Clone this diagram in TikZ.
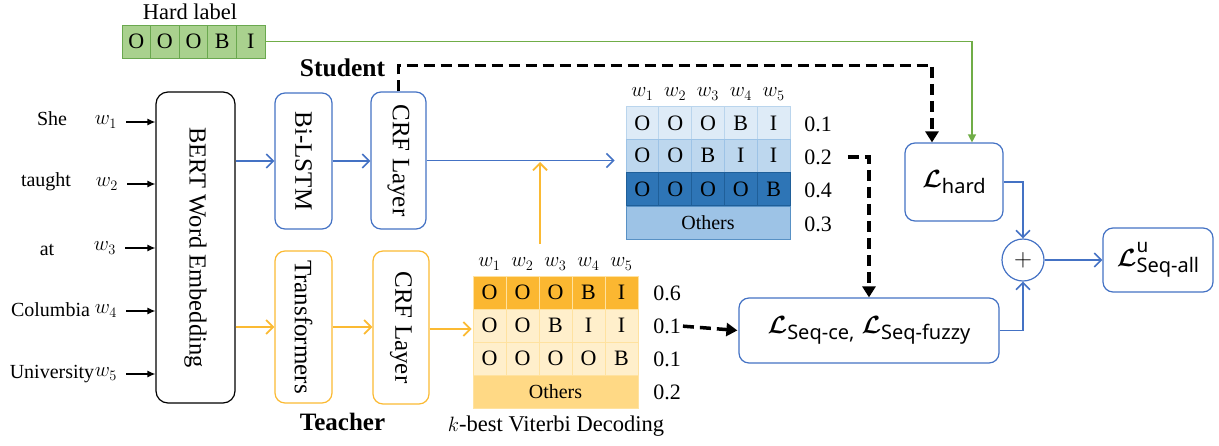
\documentclass[tikz,border=0pt]{standalone}
\usepackage{amsmath}
\usepackage{graphicx}
\usepackage{fontspec}
\setmainfont{Liberation Serif}
\newfontfamily\lossfont{Noto Sans}
\usetikzlibrary{arrows.meta,calc}
\definecolor{hgreen}{HTML}{A9D18E}
\definecolor{hgreenline}{HTML}{70AD47}
\definecolor{hgreendk}{HTML}{6AA84F}
\definecolor{bblue}{HTML}{4472C4}
\definecolor{oorange}{HTML}{FBBA33}
\definecolor{sA}{HTML}{DEEBF7}
\definecolor{sB}{HTML}{BDD7EE}
\definecolor{sC}{HTML}{2E75B6}
\definecolor{sD}{HTML}{9DC3E6}
\definecolor{sE}{HTML}{1F5F99}
\definecolor{tA}{HTML}{FBB731}
\definecolor{tB}{HTML}{FFEFCB}
\definecolor{tD}{HTML}{FFD985}
\definecolor{tL}{HTML}{FFE2A0}
\newcommand{\Lsym}{{\fontsize{31}{31}\selectfont$\boldsymbol{\mathcal{L}}$}}
\newcommand{\Lsubtxt}[1]{\raisebox{-6pt}{\fontsize{20}{20}\selectfont\lossfont #1}}
\begin{document}
\begin{tikzpicture}[x=1pt,y=-1pt,
  fs/.style={font=\fontsize{#1}{#1}\selectfont},
  roundbox/.style={draw,rounded corners=10pt,line width=1.2pt,inner sep=0pt,fill=white},
  hcell/.style={draw=hgreendk,fill=hgreen,line width=0.8pt,minimum width=28.6pt,minimum height=33pt,inner sep=0pt,fs=22},
  tcell/.style={minimum width=32.8pt,minimum height=33pt,inner sep=0pt,fs=22,line width=0.8pt},
  others/.style={minimum width=164pt,minimum height=33pt,inner sep=0pt,fs=20,line width=0.8pt},
  karr/.style={line width=1.2pt,-{Latex[length=8pt,width=7pt]}},
  barr/.style={draw=bblue,line width=1.6pt,-{Straight Barb[length=7pt,width=14pt]}},
  oarr/.style={draw=oorange,line width=1.8pt,-{Straight Barb[length=7pt,width=14pt]}},
  garr/.style={draw=hgreenline,line width=1.4pt,-{Triangle[length=8pt,width=8pt]}},
  dsh/.style={line width=3.5pt,dash pattern=on 11pt off 6pt,-{Triangle[length=11pt,width=13pt]}},
  lbl/.style={inner sep=0pt}
]
\useasboundingbox (0,0) rectangle (1219,445);

% Hard label
\node[fs=22.5] (hltxt) at (190,12) {Hard label};
\foreach \c/\t in {1/O,2/O,3/O,4/B,5/I}
  \node[hcell] (h\c) at ({107.7+28.6*\c},41.5) {\t};

% Student / Teacher labels
\node[font=\bfseries\fontsize{25.5}{25.5}\selectfont] (stud) at (342.5,68) {Student};
\node[font=\bfseries\fontsize{25}{25}\selectfont] (teach) at (342.5,422) {Teacher};

% words
\node[fs=20] (x1) at (52,119) {She};
\node[fs=20] (x2) at (46,182) {taught};
\node[fs=20] (x3) at (47,250) {at};
\node[fs=20] (x4) at (50.5,310) {Columbia};
\node[fs=20] (x5) at (52,374) {University};
\node[fs=21,lbl] (w1) at (106,122) {$w_1$};
\node[fs=21,lbl] (w2) at (107,184) {$w_2$};
\node[fs=21,lbl] (w3) at (105,248) {$w_3$};
\node[fs=21,lbl] (w4) at (106,311) {$w_4$};
\node[fs=21,lbl] (w5) at (106,374) {$w_5$};

% BERT and layers
\node[roundbox,rounded corners=12pt,draw=black,minimum width=79pt,minimum height=311pt] (bert) at (195.5,247.5)
  {\rotatebox{-90}{\fontsize{24.5}{24.5}\selectfont BERT Word Embedding}};
\node[roundbox,draw=bblue,minimum width=57pt,minimum height=136pt] (bilstm) at (303.5,161)
  {\rotatebox{-90}{\fontsize{25}{25}\selectfont Bi-LSTM}};
\node[roundbox,draw=bblue,minimum width=55pt,minimum height=137pt] (crfs) at (398.5,160.5)
  {\rotatebox{-90}{\fontsize{25}{25}\selectfont CRF Layer}};
\node[roundbox,draw=oorange,minimum width=57pt,minimum height=152pt] (trans) at (303.5,327)
  {\rotatebox{-90}{\fontsize{25}{25}\selectfont Transformers}};
\node[roundbox,draw=oorange,minimum width=56pt,minimum height=153pt] (crft) at (401,327.5)
  {\rotatebox{-90}{\fontsize{25}{25}\selectfont CRF Layer}};

% word arrows
\foreach \i in {1,...,5}
  \draw[karr] ([xshift=9pt]w\i.east) -- (w\i.east -| bert.west);

% student table
\foreach \c in {1,...,5}
  \node[fs=22] (sw\c) at ({609.6+32.8*\c},94) {$w_{\c}$};
\foreach \c/\t in {1/O,2/O,3/O,4/B,5/I}
  \node[tcell,fill=sA,draw=sD!70] (s1\c) at ({609.6+32.8*\c},123) {\t};
\foreach \c/\t in {1/O,2/O,3/B,4/I,5/I}
  \node[tcell,fill=sB,draw=sD] (s2\c) at ({609.6+32.8*\c},155.5) {\t};
\foreach \c/\t in {1/O,2/O,3/O,4/O,5/B}
  \node[tcell,fill=sC,draw=sE] (s3\c) at ({609.6+32.8*\c},189) {\t};
\node[others,fill=sD,draw=sC!80] (s4) at (708,222.5) {Others};
\node[fs=22,lbl] (sp1) at (818,124) {0.1};
\node[fs=22,lbl] (sp2) at (818,157) {0.2};
\node[fs=22,lbl] (sp3) at (818,190) {0.4};
\node[fs=22,lbl] (sp4) at (818,224) {0.3};

% teacher table
\foreach \c in {1,...,5}
  \node[fs=22] (tw\c) at ({456.5+33*\c},264) {$w_{\c}$};
\foreach \c/\t in {1/O,2/O,3/O,4/B,5/I}
  \node[tcell,minimum width=33pt,fill=tA,draw=tL] (t1\c) at ({456.5+33*\c},292.5) {\t};
\foreach \c/\t in {1/O,2/O,3/B,4/I,5/I}
  \node[tcell,minimum width=33pt,fill=tB,draw=tL] (t2\c) at ({456.5+33*\c},325.5) {\t};
\foreach \c/\t in {1/O,2/O,3/O,4/O,5/B}
  \node[tcell,minimum width=33pt,fill=tB,draw=tL] (t3\c) at ({456.5+33*\c},358.5) {\t};
\node[others,minimum width=165pt,fill=tD,draw=tL] (t4) at (555.5,391.5) {Others};
\node[fs=22,lbl] (tp1) at (667,293) {0.6};
\node[fs=22,lbl] (tp2) at (667,326) {0.1};
\node[fs=22,lbl] (tp3) at (667,359) {0.1};
\node[fs=22,lbl] (tp4) at (667,392) {0.2};
\node[fs=22.5] (kbest) at (556,426) {$k$-best Viterbi Decoding};

% loss boxes
\node[roundbox,draw=bblue,minimum width=98pt,minimum height=78pt] (lhard) at (954,182)
  {\Lsym\Lsubtxt{hard}};
\node[roundbox,draw=bblue,minimum width=260pt,minimum height=65pt] (lseq) at (869,330.5)
  {\Lsym\Lsubtxt{Seq-ce}\Lsubtxt{,}\hspace{7pt}\Lsym\Lsubtxt{Seq-fuzzy}};
\node[draw=bblue,circle,minimum size=42pt,line width=1.2pt,inner sep=0pt,fs=30] (plus) at (1023,260) {$+$};
\node[roundbox,draw=bblue,minimum width=110pt,minimum height=64pt] (lall) at (1158,260)
  {\Lsym\makebox[0pt][l]{\raisebox{14pt}{\fontsize{19}{19}\selectfont\lossfont u}}\Lsubtxt{Seq-all}};

% student path (blue)
\draw[barr] (bilstm.west -| bert.east) -- (bilstm.west);
\draw[barr] (bilstm.east) -- (bilstm.east -| crfs.west);
\path ([xshift=-11pt]s21.west) coordinate (sintmp);
\coordinate (sin) at (sintmp |- crfs.east);
\draw[barr] (crfs.east) -- (sin);

% teacher path (orange)
\draw[oarr] (trans.west -| bert.east) -- (trans.west);
\draw[oarr] (trans.east) -- (trans.east -| crft.west);
\path (crft.east) ++(0,1.5) coordinate (crftout);
\path (t21.west) ++(-1,0) coordinate (tintmp);
\coordinate (tin) at (tintmp |- crftout);
\draw[oarr] (crftout) -- (tin);
\coordinate (oup) at (540,244);
\coordinate (omeet) at (540,162);
\draw[oarr] (oup) -- (omeet);

% hard label to L_hard (green)
\draw[garr] (h5.east) -| ([xshift=18pt]lhard.north);

% dashed black
\draw[dsh] (crfs.north) -- ++(0,-26) -| ([xshift=-22pt]lhard.north);
\draw[dsh,shorten <=16pt] (sp2.east) -| (lseq.north);
\draw[dsh,shorten <=2pt,shorten >=1pt] (tp2.east) -- (lseq.west);

% losses (blue)
\draw[barr] (lhard.east) -| (plus.north);
\draw[barr] (lseq.east) -| (plus.south);
\draw[barr] (plus.east) -- (lall.west);
\end{tikzpicture}
\end{document}
